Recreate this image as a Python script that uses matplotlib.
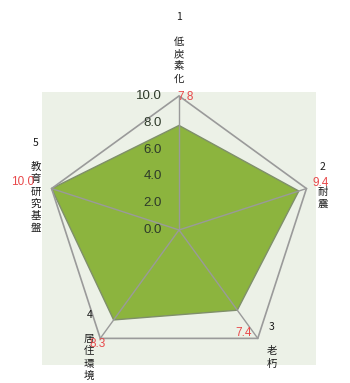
import numpy as np
import matplotlib
matplotlib.use("Agg")
import matplotlib.pyplot as plt
from matplotlib.patches import Rectangle, Polygon

plt.rcParams['font.family'] = ['Noto Sans CJK JP', 'DejaVu Sans']

# ---- data ---------------------------------------------------------------
numbers = ["1", "2", "3", "4", "5"]
names = ["低炭素化", "耐震", "老朽", "居住環境", "教育研究基盤"]
scores = [7.8, 9.4, 7.4, 8.3, 10.0]
ticks = [0.0, 2.0, 4.0, 6.0, 8.0, 10.0]
r_max = 10.0

# label placement around each outer vertex (pixels, y up)
name_offsets = [(0, 48), (16, 3), (14, -7), (-11, -7), (-16, 3)]
value_offsets = [(7, -1), (14, 6), (-14, 5), (-3, -6), (-29, 7)]

fill_color = "#8cb43e"
grid_color = "#9a9a9a"
bg_color = "#ecf1e7"
red = "#e8484a"
num_font = ["Liberation Sans", "DejaVu Sans"]

# ---- figure -------------------------------------------------------------
fig = plt.figure(figsize=(3.5, 3.83), dpi=100)
ax = fig.add_axes([0, 0, 1, 1])
ax.set_xlim(-13.36, 12.76)
ax.set_ylim(-11.42, 17.16)
ax.axis("off")

ax.add_patch(Rectangle((-10.2, -10.1), 20.4, 20.4, facecolor=bg_color,
                       edgecolor="none", zorder=0))

angles = np.deg2rad(90 - 72 * np.arange(len(scores)))
ux, uy = np.cos(angles), np.sin(angles)

# data polygon
vals = np.array(scores)
ax.add_patch(Polygon(np.column_stack([ux * vals, uy * vals]), closed=True,
                     facecolor=fill_color, edgecolor="#7f8f6a", lw=1.0, zorder=2))

# outer ring and spokes
ax.add_patch(Polygon(np.column_stack([ux * r_max, uy * r_max]), closed=True,
                     facecolor="none", edgecolor=grid_color, lw=1.2, zorder=3))
for x, y in zip(ux, uy):
    ax.plot([0, x * r_max], [0, y * r_max], color=grid_color, lw=1.0, zorder=3)

# radial tick labels
for t in ticks:
    ax.text(-1.3, t, f"{t:.1f}", ha="right", va="center", fontsize=9.5,
            family=num_font, color="#2e3a2a", zorder=4)

# category labels and value labels
for i in range(len(scores)):
    vx, vy = ux[i] * r_max, uy[i] * r_max
    label = numbers[i] + "\n\n" + "\n".join(names[i])
    ax.annotate(label, (vx, vy), xytext=name_offsets[i], textcoords="offset pixels",
                ha="center", va="center", fontsize=7.5, linespacing=1.28,
                color="#1a1a1a", zorder=5)
    ax.annotate(f"{scores[i]:.1f}", (vx, vy), xytext=value_offsets[i],
                textcoords="offset pixels", ha="center", va="center",
                fontsize=8.5, family=num_font, color=red, zorder=6)

fig.savefig("out.png", dpi=100)
